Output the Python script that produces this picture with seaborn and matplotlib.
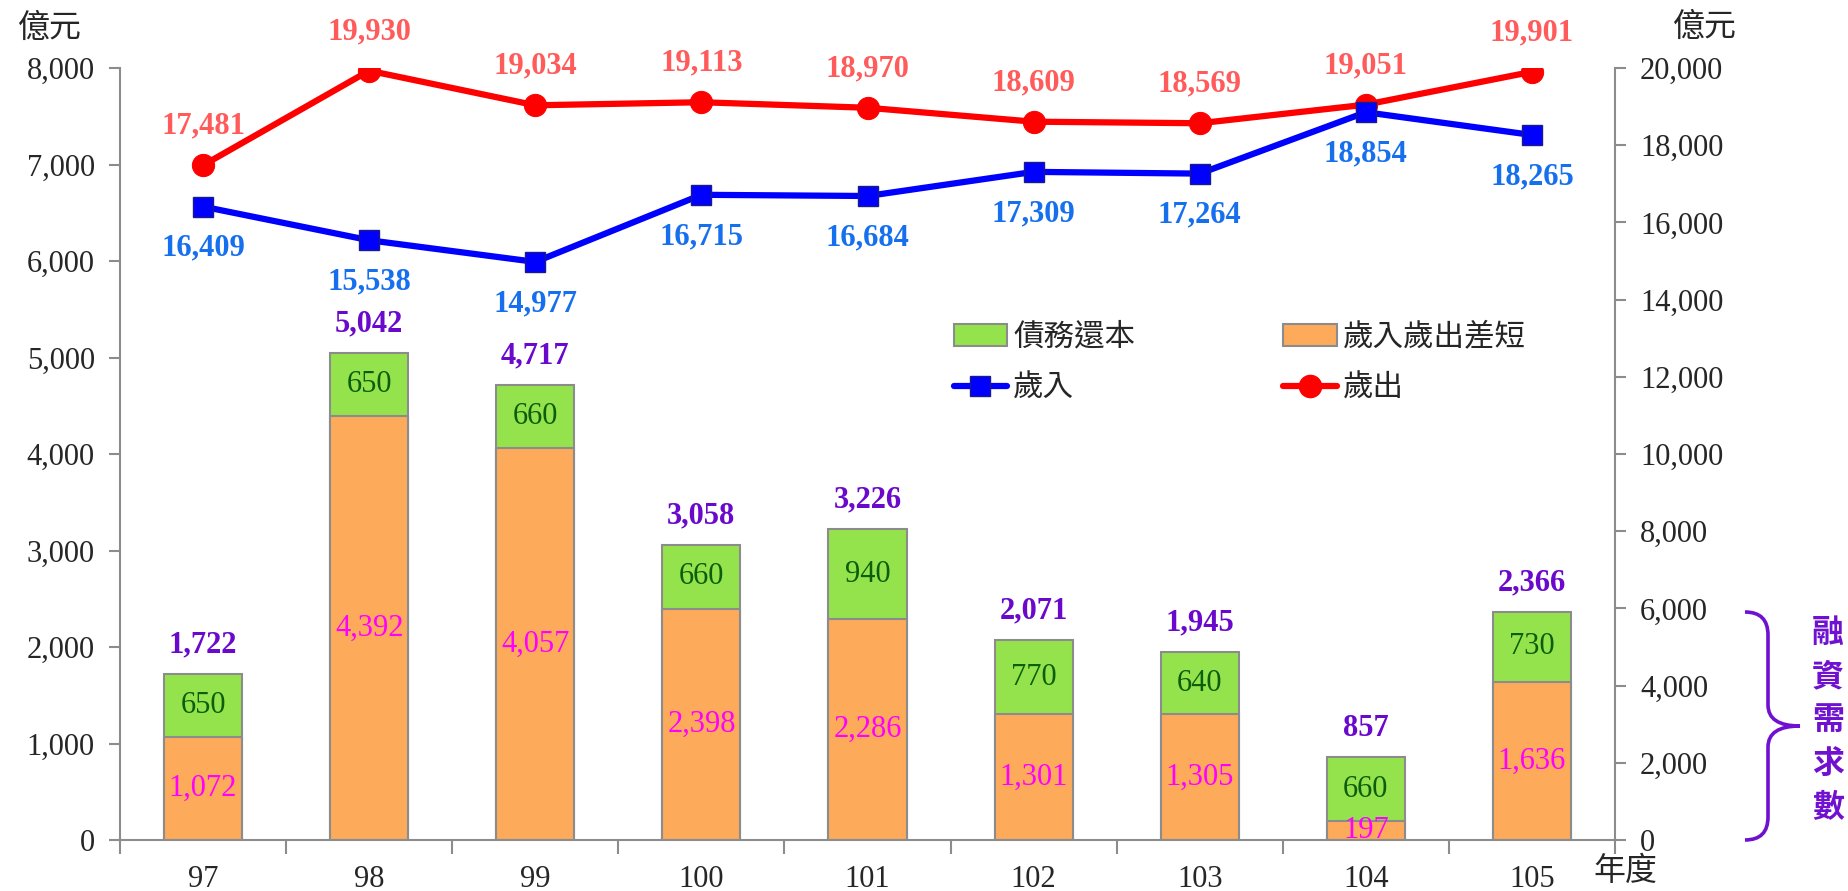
import numpy as np
import matplotlib
matplotlib.use('Agg')
import matplotlib.pyplot as plt
import seaborn as sns
from matplotlib.patches import Patch, PathPatch
from matplotlib.lines import Line2D
from matplotlib.path import Path
from matplotlib.ticker import FuncFormatter, FixedLocator

# data
years = ['97', '98', '99', '100', '101', '102', '103', '104', '105']
deficit = [1072, 4392, 4057, 2398, 2286, 1301, 1305, 197, 1636]   # 歲入歲出差短
repay = [650, 650, 660, 660, 940, 770, 640, 660, 730]             # 債務還本
revenue = [16409, 15538, 14977, 16715, 16684, 17309, 17264, 18854, 18265]  # 歲入
expend = [17481, 19930, 19034, 19113, 18970, 18609, 18569, 19051, 19901]   # 歲出
totals = [d + r for d, r in zip(deficit, repay)]

green = '#95E34C'
orange = '#FDAA5A'
edge = '#8C8C8C'
purple = '#6A08CC'

sns.set_theme(style='white')
plt.rcParams['font.family'] = ['Liberation Serif', 'Noto Sans CJK TC', 'DejaVu Sans']

W, H = 1848, 891
fig = plt.figure(figsize=(W / 100, H / 100), dpi=100)
ax = fig.add_axes([120 / W, 1 - 840 / H, (1615 - 120) / W, (840 - 68) / H])

# stacked bars: full height green, deficit in orange on top of it
sns.barplot(x=years, y=totals, color=green, width=0.47, saturation=1,
            edgecolor=edge, linewidth=1.5, ax=ax)
sns.barplot(x=years, y=deficit, color=orange, width=0.47, saturation=1,
            edgecolor=edge, linewidth=1.5, ax=ax)

ax.set_ylim(0, 8000)
ax.set_xlim(-0.5, 8.5)
ax.set_yticks(np.arange(0, 8001, 1000))
ax.yaxis.set_major_formatter(FuncFormatter(lambda v, p: f'{int(v):,}'))
ax.set_xlabel('')
ax.set_ylabel('')
ax.tick_params(axis='y', direction='out', length=8, width=1.5, color=edge,
               labelsize=22, pad=10, left=True)
ax.tick_params(axis='x', which='major', length=0, labelsize=22, pad=18)
ax.xaxis.set_minor_locator(FixedLocator(np.arange(-0.5, 9, 1)))
ax.tick_params(axis='x', which='minor', direction='out', length=10, width=1.5,
               color=edge, bottom=True)
for s in ['left', 'bottom']:
    ax.spines[s].set_color(edge)
    ax.spines[s].set_linewidth(1.5)
for s in ['top', 'right']:
    ax.spines[s].set_visible(False)

for i in range(len(years)):
    ax.text(i, deficit[i] / 2, f'{deficit[i]:,}', ha='center', va='center',
            fontsize=22, color='#FF00FF')
    ax.text(i, deficit[i] + repay[i] / 2, f'{repay[i]:,}', ha='center', va='center',
            fontsize=22, color='#0B5E0B')
    ax.annotate(f'{totals[i]:,}', (i, totals[i]), xytext=(0, 21),
                textcoords='offset points', ha='center', va='center',
                fontsize=22, fontweight='bold', color=purple)

ax2 = ax.twinx()
x = np.arange(len(years))
sns.lineplot(x=x, y=expend, color='#FF0000', linewidth=4.5, marker='o',
             markersize=16, markeredgecolor='#FF0000', ax=ax2)
sns.lineplot(x=x, y=revenue, color='#0000FF', linewidth=4.5, marker='s',
             markersize=14, markeredgecolor='#1A1A8C', markeredgewidth=1, ax=ax2)
ax2.set_ylim(0, 20000)
ax2.set_xlim(-0.5, 8.5)
ax2.set_yticks(np.arange(0, 20001, 2000))
ax2.yaxis.set_major_formatter(FuncFormatter(lambda v, p: f'{int(v):,}'))
ax2.tick_params(axis='y', direction='out', length=8, width=1.5, color=edge,
                labelsize=22, pad=10, right=True)
ax2.spines['right'].set_color(edge)
ax2.spines['right'].set_linewidth(1.5)
for s in ['top', 'left', 'bottom']:
    ax2.spines[s].set_visible(False)

for i in range(len(years)):
    ax2.annotate(f'{expend[i]:,}', (i, expend[i]), xytext=(0, 28),
                 textcoords='offset points', ha='center', va='center',
                 fontsize=22, fontweight='bold', color='#FF5B5B')
    ax2.annotate(f'{revenue[i]:,}', (i, revenue[i]), xytext=(0, -30),
                 textcoords='offset points', ha='center', va='center',
                 fontsize=22, fontweight='bold', color='#1670EE')

handles = [
    Patch(facecolor=green, edgecolor=edge, linewidth=1.5, label='債務還本'),
    Line2D([], [], color='#0000FF', linewidth=4.5, marker='s', markersize=14,
           markeredgecolor='#1A1A8C', label='歲入'),
    Patch(facecolor=orange, edgecolor=edge, linewidth=1.5, label='歲入歲出差短'),
    Line2D([], [], color='#FF0000', linewidth=4.5, marker='o', markersize=16,
           label='歲出'),
]
ax2.legend(handles=handles, ncol=2, frameon=False, fontsize=22,
           loc='upper left', bbox_to_anchor=(926 / W, 1 - 296 / H),
           bbox_transform=fig.transFigure, handlelength=1.75, handleheight=0.7,
           handletextpad=0.2, columnspacing=4.85, labelspacing=0.72)

# axis unit labels
fig.text(50 / W, 1 - 29 / H, '億元', fontsize=23, ha='center', va='center')
fig.text(1705 / W, 1 - 28 / H, '億元', fontsize=23, ha='center', va='center')
fig.text(1625 / W, 1 - 872 / H, '年度', fontsize=23, ha='center', va='center')


# brace on the right next to the lower part of the right axis
def fp(px, py):
    return (px / W, 1 - py / H)


verts = [fp(1745, 612), fp(1768, 612), fp(1768, 635), fp(1768, 705),
         fp(1768, 726), fp(1800, 726), fp(1768, 726), fp(1768, 747),
         fp(1768, 817), fp(1768, 840), fp(1745, 840)]
codes = [Path.MOVETO, Path.CURVE3, Path.CURVE3, Path.LINETO,
         Path.CURVE3, Path.CURVE3, Path.CURVE3, Path.CURVE3,
         Path.LINETO, Path.CURVE3, Path.CURVE3]
fig.patches.append(PathPatch(Path(verts, codes), transform=fig.transFigure,
                             facecolor='none', edgecolor='#7010D0', linewidth=2.6))
fig.text(1828 / W, 1 - 722 / H, '\n'.join('融資需求數'), fontsize=23,
         fontweight='bold', color='#7010D0', ha='center', va='center',
         linespacing=1.62)

fig.savefig('out.png', dpi=100)
